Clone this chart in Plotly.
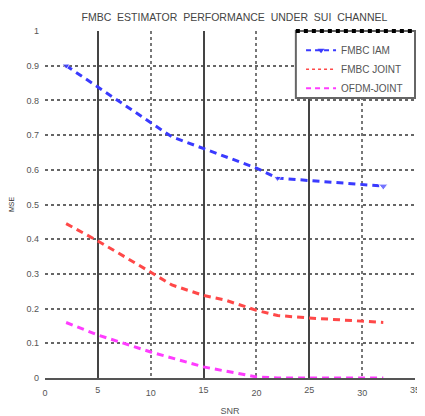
import plotly.graph_objects as go

# Data
snr_iam = [2, 12, 20, 22, 32]
mse_iam = [0.9, 0.695, 0.605, 0.576, 0.553]
iam_marker_sizes = [7, 0, 0, 7, 8]

snr_joint = [2, 5, 10, 12, 15, 17, 20, 22, 25, 30, 32]
mse_joint = [0.445, 0.395, 0.305, 0.268, 0.238, 0.225, 0.195, 0.18, 0.173, 0.164, 0.16]

snr_ofdm = [2, 5, 10, 15, 20, 22, 25, 30, 32]
mse_ofdm = [0.16, 0.124, 0.075, 0.032, 0.003, 0.0, 0.0, 0.0, 0.0]

x_ticks_a = [0, 10, 20, 30]
x_ticks_b = [5, 15, 25, 35]
y_ticks = [0, 0.1, 0.2, 0.3, 0.4, 0.5, 0.6, 0.7, 0.8, 0.9, 1]
y_ticklabels = ["0", "0.1", "0.2", "0.3", "0.4", "0.5", "0.6", "0.7", "0.8", "0.9", "1"]

names = ["FMBC IAM", "FMBC JOINT", "OFDM-JOINT"]
BLUE = "#3a3aff"
RED = "#ff4848"
MAG = "#ff3cff"
TXT = "#555555"
FONT = "Liberation Sans, Arial, sans-serif"

fig = go.Figure()

# data traces
fig.add_trace(go.Scatter(x=snr_iam, y=mse_iam, mode="lines+markers", showlegend=False,
                         line=dict(color=BLUE, width=3, dash="7px,5px"),
                         marker=dict(symbol="triangle-down", size=iam_marker_sizes, color=BLUE)))
fig.add_trace(go.Scatter(x=snr_joint, y=mse_joint, mode="lines", showlegend=False,
                         line=dict(color=RED, width=3, dash="7px,5px")))
fig.add_trace(go.Scatter(x=snr_ofdm, y=mse_ofdm, mode="lines", showlegend=False,
                         line=dict(color=MAG, width=3, dash="7px,5px")))

# legend entries (styled like the reference legend)
fig.add_trace(go.Scatter(x=[None], y=[None], mode="lines+markers", name=names[0],
                         line=dict(color=BLUE, width=2, dash="5px,4px"),
                         marker=dict(symbol="triangle-down", size=6, color=BLUE)))
fig.add_trace(go.Scatter(x=[None], y=[None], mode="lines", name=names[1],
                         line=dict(color=RED, width=1.5, dash="dot")))
fig.add_trace(go.Scatter(x=[None], y=[None], mode="lines", name=names[2],
                         line=dict(color=MAG, width=2, dash="5px,4px")))

# second x axis for the solid vertical grid lines and their labels
fig.add_trace(go.Scatter(x=[None], y=[None], xaxis="x2", showlegend=False))

fig.update_layout(
    width=417, height=408,
    margin=dict(l=37, r=10, t=23, b=38, autoexpand=False),
    paper_bgcolor="white", plot_bgcolor="white",
    font=dict(family=FONT, size=9, color=TXT),
    title=dict(text="FMBC  ESTIMATOR  PERFORMANCE  UNDER  SUI  CHANNEL",
               x=0.543, xanchor="center", y=0.978, yanchor="middle", automargin=False,
               font=dict(size=10.5, color="#444444")),
    xaxis=dict(range=[0, 35], tickvals=x_ticks_a, ticks="", showgrid=True,
               gridcolor="#777777", gridwidth=1.5, griddash="dot", automargin=False,
               showline=True, linecolor="#555555", linewidth=2, mirror=False,
               zeroline=False, tickfont=dict(size=9, color=TXT), ticklabeloverflow="allow",
               ticklabelstandoff=5,
               title=dict(text="SNR", font=dict(size=9, color=TXT), standoff=12)),
    xaxis2=dict(range=[0, 35], overlaying="x", side="bottom", tickvals=x_ticks_b,
                ticks="", showgrid=True, gridcolor="#444444", gridwidth=2, automargin=False,
                showline=False, zeroline=False, tickfont=dict(size=9, color=TXT),
                ticklabeloverflow="allow", ticklabelstandoff=5),
    yaxis=dict(range=[0, 1], tickvals=y_ticks, ticktext=y_ticklabels, ticks="",
               showgrid=True, gridcolor="#666666", gridwidth=1.5, griddash="dot",
               showline=False, zeroline=False, tickfont=dict(size=9, color=TXT),
               automargin=False, ticklabeloverflow="allow", ticklabelstandoff=5,
               title=dict(text="MSE", font=dict(size=7, color="#333333"), standoff=12)),
    legend=dict(x=0.692, xanchor="left", y=0.986, yanchor="top",
                bgcolor="rgba(0,0,0,0)", borderwidth=0,
                font=dict(size=10, color="#555555"), itemwidth=30),
)

# legend box (white, covering the grid) with its heavy dotted top edge
fig.add_shape(type="rect", xref="paper", yref="paper", x0=0.678, x1=1.0, y0=0.807, y1=1.0,
              layer="above", fillcolor="white", line=dict(color="#666666", width=2))
fig.add_shape(type="line", xref="paper", yref="paper", x0=0.678, x1=1.0, y0=1.0, y1=1.0,
              layer="above", line=dict(color="black", width=4, dash="dot"))

fig.write_html("out.html")
